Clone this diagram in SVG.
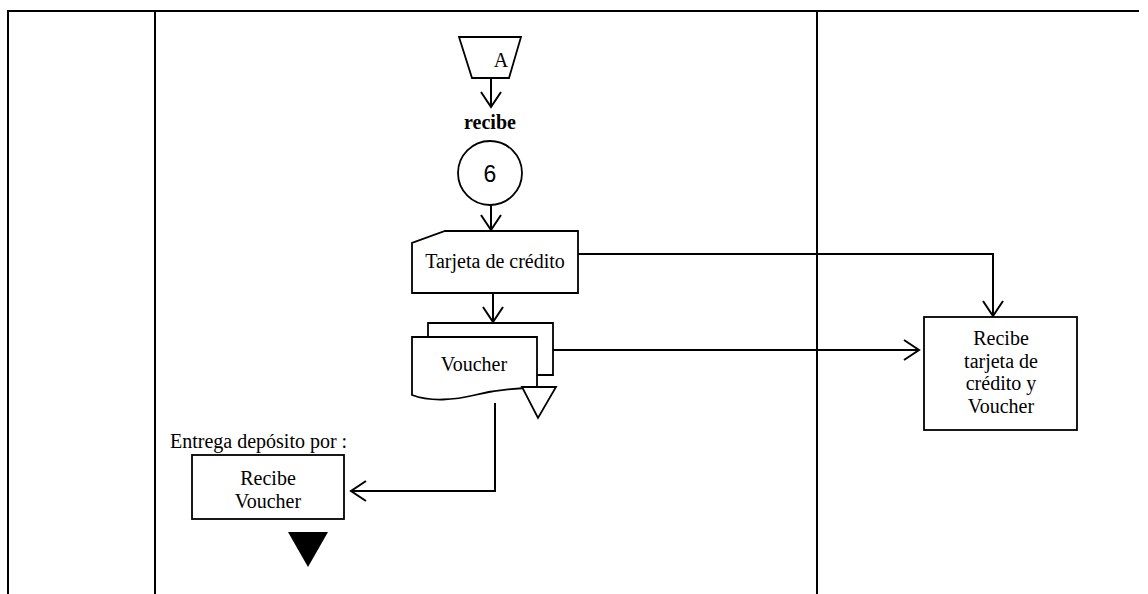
<svg xmlns="http://www.w3.org/2000/svg" width="1148" height="594" viewBox="0 0 1148 594">
<style>
.f{fill:none;stroke:#000;stroke-width:2}
.s{fill:#fff;stroke:#000;stroke-width:1.8}
.c{fill:none;stroke:#000;stroke-width:2}
.t{font-family:"Liberation Serif","Times New Roman",serif;font-size:20px;fill:#000}
</style>
<defs>
<marker id="ah" markerUnits="userSpaceOnUse" markerWidth="24" markerHeight="24" viewBox="-18 -12 20 24" refX="0" refY="0" orient="auto">
<path d="M-15,-10 L0,0 L-15,10" fill="none" stroke="#000" stroke-width="2"/>
</marker>
</defs>
<rect width="1148" height="594" fill="#fff"/>
<g id="frame">
<path class="f" d="M8,594 V11 H1139 M155,11 V594 M817,11 V594"/>
</g>
<g id="connectors">
<path class="c" d="M491,78 V107" marker-end="url(#ah)"/>
<path class="c" d="M491,205 V230" marker-end="url(#ah)"/>
<path class="c" d="M493,293 V322" marker-end="url(#ah)"/>
<path class="c" d="M578,254 H993 V316" marker-end="url(#ah)"/>
<path class="c" d="M553,350 H919" marker-end="url(#ah)"/>
<path class="c" d="M495,403 V491 H351" marker-end="url(#ah)"/>
</g>
<g id="connector-A">
<path class="s" d="M459,37 H521 L509,78 H472 Z"/>
<text class="t" x="501" y="67" text-anchor="middle" font-size="18">A</text>
</g>
<g id="label-recibe">
<text class="t" x="490" y="129" text-anchor="middle" font-weight="bold">recibe</text>
</g>
<g id="step-6">
<circle class="s" cx="490" cy="173" r="32"/>
<text x="490" y="182" text-anchor="middle" font-family="Liberation Sans, Arial, sans-serif" font-size="23">6</text>
</g>
<g id="tarjeta">
<path class="s" d="M445,231 H578 V293 H412 V243 Z"/>
<text class="t" x="495" y="268" text-anchor="middle" font-size="21">Tarjeta de crédito</text>
</g>
<g id="voucher">
<path class="s" d="M428,337 V323 H553 V375 H537"/>
<path class="s" d="M412,337 H537 V388 C515,388 495,390 475,395 C455,400 430,402 412,395 Z"/>
<text class="t" x="474" y="371" text-anchor="middle" font-size="21">Voucher</text>
<path class="s" d="M522,387 H556 L538,418 Z"/>
</g>
<g id="recibe-tarjeta">
<rect class="s" x="924" y="317" width="153" height="113"/>
<text class="t" text-anchor="middle"><tspan x="1001" y="345">Recibe</tspan><tspan x="1001" y="368">tarjeta de</tspan><tspan x="1001" y="390">crédito y</tspan><tspan x="1001" y="413">Voucher</tspan></text>
</g>
<g id="recibe-voucher">
<text class="t" x="170" y="448">Entrega depósito por :</text>
<rect class="s" x="192" y="455" width="152" height="64"/>
<text class="t" text-anchor="middle"><tspan x="268" y="485">Recibe</tspan><tspan x="268" y="508">Voucher</tspan></text>
</g>
<g id="end">
<path d="M288,532 H328 L308,567 Z" fill="#000"/>
</g>
</svg>
